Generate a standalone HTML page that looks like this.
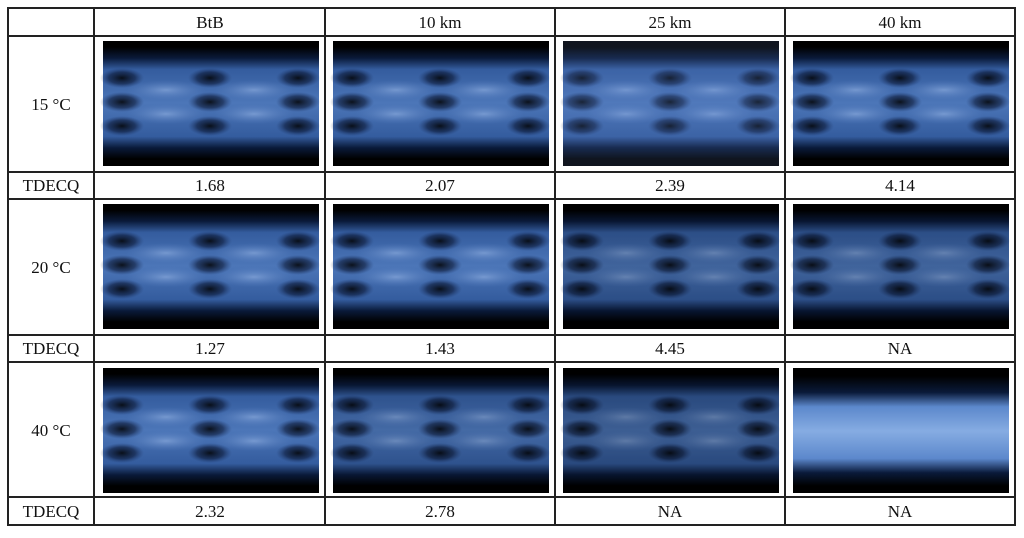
<!DOCTYPE html>
<html><head><style>
body{margin:0;background:#fff;width:1024px;height:538px;overflow:hidden}
svg{position:absolute;left:0;top:0}
text{font-family:"Liberation Serif",serif;font-size:17px;fill:#111;text-anchor:middle}
</style></head><body>
<svg width="1024" height="538" viewBox="0 0 1024 538">
<defs>
<linearGradient id="band" x1="0" y1="0" x2="0" y2="1">
<stop offset="0" stop-color="#000"/>
<stop offset="0.1" stop-color="#0a1a3a"/>
<stop offset="0.2" stop-color="#345c9e"/>
<stop offset="0.5" stop-color="#4c76b8"/>
<stop offset="0.8" stop-color="#345c9e"/>
<stop offset="0.9" stop-color="#0a1a3a"/>
<stop offset="1" stop-color="#000"/>
</linearGradient>
<linearGradient id="band2" x1="0" y1="0" x2="0" y2="1">
<stop offset="0" stop-color="#000"/>
<stop offset="0.15" stop-color="#0a1a3a"/>
<stop offset="0.28" stop-color="#5c88cc"/>
<stop offset="0.5" stop-color="#86ace2"/>
<stop offset="0.75" stop-color="#5c88cc"/>
<stop offset="0.88" stop-color="#0a1a3a"/>
<stop offset="1" stop-color="#000"/>
</linearGradient>
<radialGradient id="eye"><stop offset="0" stop-color="#000" stop-opacity="0.85"/><stop offset="0.6" stop-color="#06102a" stop-opacity="0.55"/><stop offset="1" stop-color="#1a3060" stop-opacity="0"/></radialGradient>
<radialGradient id="lv"><stop offset="0" stop-color="#a8c4f0" stop-opacity="0.5"/><stop offset="1" stop-color="#6a90d0" stop-opacity="0"/></radialGradient>
<g id="eyes">
<rect width="216" height="125" fill="#000"/>
<rect y="6" width="216" height="112" fill="url(#band)"/>
<g fill="url(#eye)">
<ellipse cx="19" cy="37" rx="22" ry="10"/><ellipse cx="107" cy="37" rx="22" ry="10"/><ellipse cx="195" cy="37" rx="22" ry="10"/>
<ellipse cx="19" cy="61" rx="22" ry="10"/><ellipse cx="107" cy="61" rx="22" ry="10"/><ellipse cx="195" cy="61" rx="22" ry="10"/>
<ellipse cx="19" cy="85" rx="22" ry="10"/><ellipse cx="107" cy="85" rx="22" ry="10"/><ellipse cx="195" cy="85" rx="22" ry="10"/>
</g>
<g fill="url(#lv)">
<ellipse cx="63" cy="49" rx="40" ry="10"/><ellipse cx="151" cy="49" rx="40" ry="10"/>
<ellipse cx="63" cy="73" rx="40" ry="10"/><ellipse cx="151" cy="73" rx="40" ry="10"/>
</g>
</g>
<g id="bright">
<rect width="216" height="125" fill="#000"/>
<rect y="8" width="216" height="110" fill="url(#band2)"/>
</g>
</defs>
<g transform="translate(103,41)"><use href="#eyes"/></g>
<g transform="translate(333,41)"><use href="#eyes"/></g>
<g transform="translate(563,41)"><use href="#eyes"/><rect width="216" height="125" fill="#6a90d0" opacity="0.15"/></g>
<g transform="translate(793,41)"><use href="#eyes"/></g>
<g transform="translate(103,204)"><use href="#eyes"/></g>
<g transform="translate(333,204)"><use href="#eyes"/></g>
<g transform="translate(563,204)"><use href="#eyes"/><rect width="216" height="125" fill="#000" opacity="0.15"/></g>
<g transform="translate(793,204)"><use href="#eyes"/><rect width="216" height="125" fill="#000" opacity="0.15"/></g>
<g transform="translate(103,368)"><use href="#eyes"/></g>
<g transform="translate(333,368)"><use href="#eyes"/><rect width="216" height="125" fill="#000" opacity="0.1"/></g>
<g transform="translate(563,368)"><use href="#eyes"/><rect width="216" height="125" fill="#000" opacity="0.2"/></g>
<g transform="translate(793,368)"><use href="#bright"/></g>
<g stroke="#222" stroke-width="2" fill="none">
<rect x="8" y="8" width="1007" height="517"/>
<path d="M94 8V525M325 8V525M555 8V525M785 8V525M8 36H1015M8 172H1015M8 199H1015M8 335H1015M8 362H1015M8 497H1015M8 525H1015"/>
</g>
<text x="210" y="28">BtB</text><text x="440" y="28">10 km</text><text x="670" y="28">25 km</text><text x="900" y="28">40 km</text>
<text x="51" y="110">15 °C</text><text x="51" y="273">20 °C</text><text x="51" y="436">40 °C</text>
<text x="51" y="191">TDECQ</text><text x="210" y="191">1.68</text><text x="440" y="191">2.07</text><text x="670" y="191">2.39</text><text x="900" y="191">4.14</text>
<text x="51" y="354">TDECQ</text><text x="210" y="354">1.27</text><text x="440" y="354">1.43</text><text x="670" y="354">4.45</text><text x="900" y="354">NA</text>
<text x="51" y="517">TDECQ</text><text x="210" y="517">2.32</text><text x="440" y="517">2.78</text><text x="670" y="517">NA</text><text x="900" y="517">NA</text>
</svg>
</body></html>
